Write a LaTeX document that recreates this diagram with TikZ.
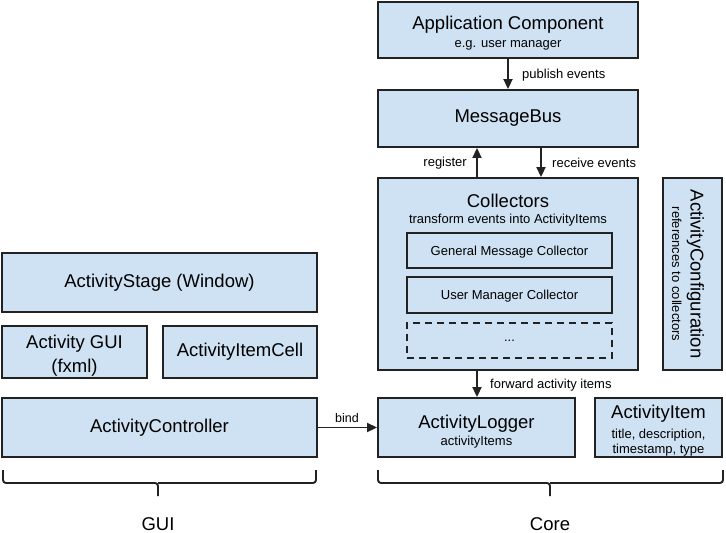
\documentclass[tikz,border=0pt]{standalone}
\usepackage{fontspec}
\setmainfont{Liberation Sans}
\usetikzlibrary{arrows.meta}
\definecolor{boxfill}{HTML}{CFE2F3}
\definecolor{boxline}{HTML}{222222}
\newcommand{\tT}{\fontsize{18.5}{20.5}\selectfont}
\newcommand{\tS}{\fontsize{13}{15}\selectfont}
\begin{document}
\begin{tikzpicture}[x=1pt,y=-1pt,
  box/.style={draw=boxline,fill=boxfill,line width=1.9pt,inner sep=0pt,align=center,font=\tT},
  inner/.style={draw=boxline,fill=boxfill,line width=1.9pt,inner sep=0pt,align=center,font=\tS,text depth=0pt},
  arr/.style={draw=boxline,line width=1.9pt,-{Triangle[length=10pt,width=9pt]}},
  lbl/.style={font=\tS,inner sep=0pt},
  txt/.style={font=\tT,inner sep=0pt,align=center},
  brace/.style={draw=boxline,line width=1.9pt,rounded corners=3pt}]
\useasboundingbox (0,0) rectangle (726,533);
% core column
\node[box,minimum width=260pt,minimum height=56pt] (app) at (508,30) {};
\node[txt] (apptext) at (508,33) {Application Component\\[-3pt]\tS e.g. user manager};
\node[box,minimum width=260pt,minimum height=57pt] (bus) at (508,118.5) {MessageBus};
\node[box,minimum width=260pt,minimum height=192pt] (coll) at (508,274) {};
\node[txt] (colltitle) at (508,210) {Collectors\\[-4pt]\tS transform events into ActivityItems};
\node[inner,minimum width=205pt,minimum height=35pt] (gmc) at (509.5,250.5) {General Message Collector};
\node[inner,minimum width=205pt,minimum height=36pt] (umc) at (509.5,295) {User Manager Collector};
\node[inner,dashed,dash pattern=on 7pt off 5pt,minimum width=205pt,minimum height=35pt] (more) at (509.5,340.5) {...};
\node[box,minimum width=59pt,minimum height=192pt] (conf) at (692.5,274) {};
\node[txt,rotate=-90] (conftext) at (688,274) {ActivityConfiguration\\[-2pt]\tS references to collectors};
\node[box,minimum width=197pt,minimum height=59pt] (logger) at (476.5,427.5) {};
\node[txt] (loggertext) at (476.5,431.5) {ActivityLogger\\[-3pt]\tS activityItems};
\node[box,minimum width=127pt,minimum height=59pt] (item) at (658.5,427.5) {};
\node[txt] (itemtext) at (658.5,431) {ActivityItem\\[-1pt]\tS title, description,\\[-5pt]\tS timestamp, type};
% gui column
\node[box,minimum width=315pt,minimum height=59pt] (stage) at (159.5,282.5) {ActivityStage (Window)};
\node[box,minimum width=145pt,minimum height=52pt] (gui) at (74.5,352) {};
\node[txt] (guitext) at (74.5,355.5) {Activity GUI\\[3pt](fxml)};
\node[box,minimum width=154pt,minimum height=52pt] (cell) at (240,352) {ActivityItemCell};
\node[box,minimum width=315pt,minimum height=59pt] (ctrl) at (159.5,427.5) {ActivityController};
% connector x positions
\coordinate (xreg) at (477,0);
\coordinate (xrec) at (541,0);
% connectors
\draw[arr] (app) -- (bus);
\draw[arr] (coll.north -| xreg) -- (bus.south -| xreg);
\draw[arr] (bus.south -| xrec) -- (coll.north -| xrec);
\draw[arr] (coll.south -| xreg) -- (logger.north -| xreg);
\draw[arr] (ctrl) -- (logger);
% labels
\node[lbl,anchor=west] (lpub) at (522,75) {publish events};
\node[lbl,anchor=east] (lreg) at (467,163) {register};
\node[lbl,anchor=west] (lrec) at (552,163) {receive events};
\node[lbl,anchor=west] (lfwd) at (490,385) {forward activity items};
\node[lbl,font=\fontsize{12.5}{14}\selectfont] (lbind) at (347,418) {bind};
% braces
\draw[brace] (3,470) -- (3,483) -- (158,483) -- (158,496);
\draw[brace] (158,483) -- (316,483) -- (316,470);
\draw[brace] (378,470) -- (378,483) -- (550,483) -- (550,496);
\draw[brace] (550,483) -- (723,483) -- (723,470);
\node[font=\tT,anchor=base,inner sep=0pt] (lgui) at (158,530) {GUI};
\node[font=\tT,anchor=base,inner sep=0pt] (lcore) at (550,530) {Core};
\end{tikzpicture}
\end{document}
